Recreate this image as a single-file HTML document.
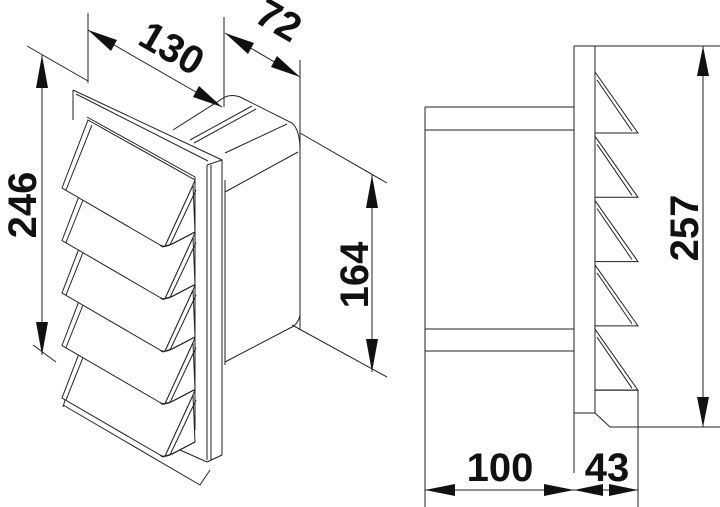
<!DOCTYPE html>
<html><head><meta charset="utf-8"><style>
html,body{margin:0;padding:0;background:#fff;}
svg{display:block}
text{font-family:"Liberation Sans",sans-serif;font-size:40px;font-weight:bold;fill:#111;}
</style></head><body>
<svg width="720" height="507" viewBox="0 0 720 507" xmlns="http://www.w3.org/2000/svg">
<g fill="none" stroke="#222" stroke-width="1">
<!-- ===== LEFT ISO VIEW ===== -->
<path d="M173,130 L225,97 Q232,94 240,97 L292,123 Q300,130 300,150 L300,315 Q298,325 290,328 L225,362"/>
<path d="M225,153 L287,124"/>
<path d="M225,192 L298,152"/>
<path d="M190,140 L252,106 M194,143 L256,109"/>
<path d="M225,180 L225,365"/>
<!-- frame -->
<path d="M73,90 L222,160 L222,455 L207,462" fill="#fff"/>
<path d="M76,94 L208,161"/>
<path d="M73,90 L73,120"/>
<path d="M87,117 L195,177 L195,430"/>
<path d="M207,165 L207,460 M211,165 L211,460"/>
<path d="M207,165 L222,160"/>
<!-- bottom plate -->
<path d="M63,405 L200,485 L210,470 M65,400 L63,407 M180,450 L207,462"/>
<!-- louvers (drawn bottom first so upper ones overlap) -->
<defs>
<g id="lv">
<path d="M193,185 L195,232 L172,244 L165,246 Z" fill="#fff"/>
<path d="M88,120 L195,180 L193,185 L165,246 Q163,248 160,245 L62,188 Z" fill="#fff"/>
<path d="M160,245 Q165,248 172,244 L195,232"/>
<path d="M66,190 L92,125"/>
<path d="M170,245 L196,190"/>
</g>
</defs>
<use href="#lv" transform="translate(0,210)"/>
<use href="#lv" transform="translate(0,157.5)"/>
<use href="#lv" transform="translate(0,105)"/>
<use href="#lv" transform="translate(0,52.5)"/>
<use href="#lv"/>
<!-- dimension lines left -->
<path d="M42,55 L42,355"/>
<path d="M27,46 L88,81"/>
<path d="M33,345 L56,362"/>
<path d="M88,13 L88,83"/>
<path d="M224,17 L224,107"/>
<path d="M88,30 L222,107"/>
<path d="M225,33 L300,77"/>
<path d="M300,60 L300,330"/>
<path d="M300,133 L387,183"/>
<path d="M292,325 L387,377"/>
<path d="M372,175 L372,372"/>
<!-- ===== RIGHT VIEW ===== -->
<path d="M574,46 L720,46"/>
<path d="M574,46 L574,413 L595,413 L595,46"/>
<path d="M595,413 L610,427 L720,427"/>
<path d="M425,107 L574,107 M425,130 L574,130 M425,329 L574,329 M425,351 L574,351"/>
<path d="M425,107 L425,507"/>
<path d="M574,413 L574,473"/>
<path d="M638,390 L638,507"/>
<path d="M703,46 L703,427"/>
<path d="M425,490 L638,490"/>
<g id="rl">
<path d="M595,72 L638,133 L595,133 M597,80 L632,131"/>
</g>
<use href="#rl" transform="translate(0,64.3)"/>
<use href="#rl" transform="translate(0,128.6)"/>
<use href="#rl" transform="translate(0,192.9)"/>
<use href="#rl" transform="translate(0,257.2)"/>
<path d="M595,390 L638,390"/>
</g>
<g fill="#111">
<polygon points="42,55 36,88 48,88"/>
<polygon points="42,355 36,322 48,322"/>
<polygon points="88,30 117,40 111,51"/>
<polygon points="222,107 193,97 199,86"/>
<polygon points="225,33 254,43 248,54"/>
<polygon points="300,77 271,67 277,56"/>
<polygon points="372,175 366,208 378,208"/>
<polygon points="372,372 366,339 378,339"/>
<polygon points="703,46 697,76 709,76"/>
<polygon points="703,427 697,397 709,397"/>
<polygon points="425,490 455,484 455,496"/>
<polygon points="574,490 544,484 544,496"/>
<polygon points="574,490 603,484 603,496"/>
<polygon points="638,490 609,484 609,496"/>
</g>
<text transform="translate(36,205) rotate(-90)" text-anchor="middle">246</text>
<text transform="translate(165,60) rotate(30)" text-anchor="middle">130</text>
<text transform="translate(272,32) rotate(30)" text-anchor="middle">72</text>
<text transform="translate(368,275) rotate(-90)" text-anchor="middle">164</text>
<text transform="translate(698,228) rotate(-90)" text-anchor="middle">257</text>
<text x="500" y="481" text-anchor="middle">100</text>
<text x="607" y="481" text-anchor="middle">43</text>
</svg>
</body></html>
